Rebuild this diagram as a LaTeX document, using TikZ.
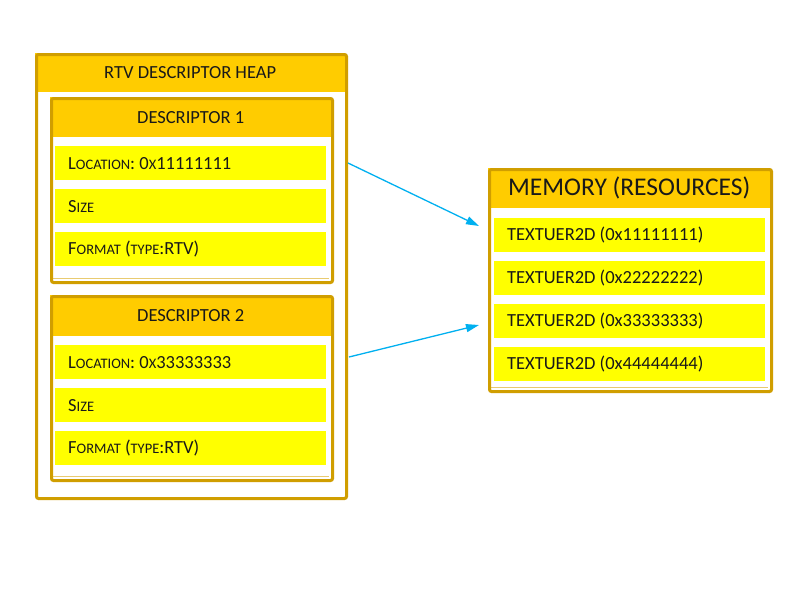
\documentclass[tikz,border=0pt]{standalone}
\usepackage{fontspec}
\setmainfont{Carlito}
\usetikzlibrary{arrows.meta}
\definecolor{hdrgold}{HTML}{FFCC00}
\definecolor{bordgold}{HTML}{D09E00}
\definecolor{rowyellow}{HTML}{FFFF00}
\definecolor{arrowblue}{HTML}{00B0F0}
\definecolor{shadowgold}{HTML}{E9CB70}
\newcommand\mysc[1]{{\fontsize{14.5}{17}\selectfont #1}}
\begin{document}
\frenchspacing
\begin{tikzpicture}[x=1pt,y=-1pt,
  frame/.style={draw=bordgold, line width=3pt, rounded corners=2pt, inner sep=0pt, anchor=north west},
  hdr/.style={fill=hdrgold, inner sep=0pt, anchor=north west, font=\fontsize{18.5}{22}\selectfont, text=black!90},
  rowbox/.style={fill=rowyellow, inner xsep=13pt, inner ysep=0pt, minimum height=34pt, text width=245pt, align=flush left, anchor=north west, font=\fontsize{18.5}{22}\selectfont, text=black!90},
  conn/.style={draw=arrowblue, line width=1.3pt, -{Triangle[length=13pt,width=8pt]}}
]
\useasboundingbox (0,0) rectangle (800,600);
\fill[white] (0,0) rectangle (800,600);

% heap
\node[hdr, minimum width=310pt, minimum height=39pt] (heaphdr) at (35,53) {RTV DESCRIPTOR HEAP};
\node[frame, minimum width=310pt, minimum height=444pt] (heap) at (35,53) {};

% descriptor 1
\node[hdr, minimum width=281pt, minimum height=40pt] (d1hdr) at (50,97) {DESCRIPTOR 1};
\node[rowbox] (loc1) at (55,146) {L\mysc{OCATION}: 0\mysc{X}11111111};
\node[rowbox] (size1) at (55,189) {S\mysc{IZE}};
\node[rowbox] (fmt1) at (55,232) {F\mysc{ORMAT} (\mysc{TYPE}:RTV)};
\draw[shadowgold, line width=1.5pt] (52,278.5) -- (329,278.5);
\node[frame, minimum width=281pt, minimum height=184pt] (d1) at (50,97) {};

% descriptor 2
\node[hdr, minimum width=281pt, minimum height=41pt] (d2hdr) at (50,295) {DESCRIPTOR 2};
\node[rowbox] (loc2) at (55,345) {L\mysc{OCATION}: 0\mysc{X}33333333};
\node[rowbox] (size2) at (55,388) {S\mysc{IZE}};
\node[rowbox] (fmt2) at (55,431) {F\mysc{ORMAT} (\mysc{TYPE}:RTV)};
\draw[shadowgold, line width=1.5pt] (52,476.5) -- (329,476.5);
\node[frame, minimum width=281pt, minimum height=184pt] (d2) at (50,295) {};

% memory
\node[hdr, minimum width=282pt, minimum height=40pt, font=\fontsize{25.5}{30}\selectfont] (memhdr) at (488,168) {MEMORY (RESOURCES)};
\node[rowbox] (t1) at (494,218) {TEXTUER2D (0x11111111)};
\node[rowbox] (t2) at (494,261) {TEXTUER2D (0x22222222)};
\node[rowbox] (t3) at (494,304) {TEXTUER2D (0x33333333)};
\node[rowbox] (t4) at (494,347) {TEXTUER2D (0x44444444)};
\draw[shadowgold, line width=1.5pt] (490,387.5) -- (768,387.5);
\node[frame, minimum width=282pt, minimum height=222pt] (mem) at (488,168) {};

% connectors
\coordinate (a1s) at (348,163);
\coordinate (a1e) at (479,226);
\coordinate (a2s) at (349,357);
\coordinate (a2e) at (479,325);
\draw[conn] (a1s) -- (a1e);
\draw[conn] (a2s) -- (a2e);
\end{tikzpicture}
\end{document}
